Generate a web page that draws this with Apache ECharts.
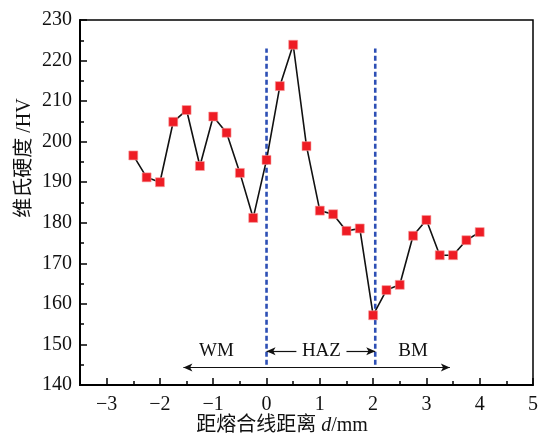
<!DOCTYPE html>
<html><head><meta charset="utf-8">
<script src="https://cdn.jsdelivr.net/npm/echarts@6/dist/echarts.min.js"></script>
<style>html,body{margin:0;padding:0;background:#fff}#c{width:541px;height:437px}</style>
</head><body><div id="c"></div>
<script>
const distance = [-2.5,-2.25,-2,-1.75,-1.5,-1.25,-1,-0.75,-0.5,-0.25,0,0.25,0.5,0.75,1,1.25,1.5,1.75,2,2.25,2.5,2.75,3,3.25,3.5,3.75,4];
const hardness = [196.6,191.2,190.0,204.9,207.8,194.0,206.2,202.2,192.3,181.2,195.5,213.7,223.9,198.9,183.0,182.1,178.0,178.6,157.2,163.4,164.7,176.8,180.7,172.0,172.0,175.7,177.7];
const xTicks = [-3,-2,-1,0,1,2,3,4,5];
const xMinorTicks = [-3.5,-2.5,-1.5,-0.5,0.5,1.5,2.5,3.5,4.5];
const boundaries = [0, 2.04];
const boundaryRange = [145, 223];
const zoneLabels = ['WM','HAZ','BM'];
const zoneLabelX = [-0.94, 1.03, 2.75];
const zoneLabelY = 148.3;
const bmArrow = [-1.56, 3.44, 144.3];
const hazArrows = [[0.56, 0], [1.5, 2.04]];

const FONT = '"Liberation Serif","Times New Roman","Noto Sans CJK SC",serif';
const chart = echarts.init(document.getElementById('c'), null, {renderer:'canvas'});

const series = [{
  type:'line', data: distance.map((d,i)=>[d,hardness[i]]),
  symbol:'rect', symbolSize:9,
  lineStyle:{color:'#111', width:1.6},
  itemStyle:{color:'#ee1c24', borderColor:'#f7a0a0', borderWidth:0.6},
  z:5, animation:false
}];
boundaries.forEach(b=>{
  series.push({type:'line', data:[[b,boundaryRange[0]],[b,boundaryRange[1]]], symbol:'none',
    lineStyle:{color:'#2d4fb5', width:2.6, type:[5,3]}, z:3, animation:false});
});
series.push({
  type:'line', data:[], animation:false,
  markLine:{
    silent:true, animation:false,
    symbol:['arrow','arrow'], symbolSize:[6,9],
    lineStyle:{color:'#111', width:1.2, type:'solid'},
    label:{show:false},
    data:[
      [{coord:[bmArrow[0],bmArrow[2]], symbol:'arrow'},{coord:[bmArrow[1],bmArrow[2]], symbol:'arrow'}],
      [{coord:[hazArrows[0][0],zoneLabelY], symbol:'none'},{coord:[hazArrows[0][1],zoneLabelY], symbol:'arrow'}],
      [{coord:[hazArrows[1][0],zoneLabelY], symbol:'none'},{coord:[hazArrows[1][1],zoneLabelY], symbol:'arrow'}]
    ]
  }
});
series.push({
  type:'scatter', data: zoneLabels.map((t,i)=>({value:[zoneLabelX[i], zoneLabelY], name:t})),
  symbolSize:1, itemStyle:{opacity:0}, animation:false,
  label:{show:true, position:'inside', formatter: p=>p.name, color:'#111', fontFamily:FONT, fontSize:19, opacity:1},
  z:6
});

chart.setOption({
  backgroundColor:'#fff',
  animation:false,
  grid:{left:80, right:8, top:20, bottom:52, show:true, borderColor:'#000', borderWidth:1.5, backgroundColor:'transparent'},
  xAxis:[{
    type:'value', min:-3.5, max:5, interval:0.5,
    axisLine:{show:true, onZero:false, lineStyle:{color:'#000', width:2}},
    axisTick:{show:true, inside:true, length:7, lineStyle:{color:'#000', width:1.5}, customValues:xTicks},
    axisLabel:{color:'#111', fontFamily:FONT, fontSize:20, margin:10, customValues:xTicks,
      formatter:v=>String(v).replace('-','\u2212')},
    splitLine:{show:false}
  },{
    type:'value', min:-3.5, max:5, interval:0.5, position:'bottom',
    axisLine:{show:false, onZero:false},
    axisTick:{show:true, inside:true, length:4, lineStyle:{color:'#000', width:1.5}, customValues:xMinorTicks},
    axisLabel:{show:false}, splitLine:{show:false}
  }],
  yAxis:{
    type:'value', min:140, max:230, interval:10,
    axisLine:{show:true, onZero:false, lineStyle:{color:'#000', width:2}},
    axisTick:{show:true, inside:true, length:7, lineStyle:{color:'#000', width:1.5}},
    minorTick:{show:true, splitNumber:2, length:4, lineStyle:{color:'#000', width:1.5}},
    axisLabel:{color:'#111', fontFamily:FONT, fontSize:20, margin:8},
    splitLine:{show:false}
  },
  graphic:[
    {type:'text', x:25, y:158, rotation:Math.PI/2, style:{text:'维氏硬度 /HV', fill:'#111', font:'20px '+FONT, align:'center', verticalAlign:'middle'}},
    {type:'text', x:282, y:426, style:{
      text:'{a|距熔合线距离 }{i|d}{a|/mm}', align:'center', verticalAlign:'middle',
      rich:{a:{fontFamily:FONT, fontSize:20, fill:'#111'}, i:{fontFamily:FONT, fontSize:20, fontStyle:'italic', fill:'#111'}}
    }}
  ],
  series:series
});
</script>
</body></html>
